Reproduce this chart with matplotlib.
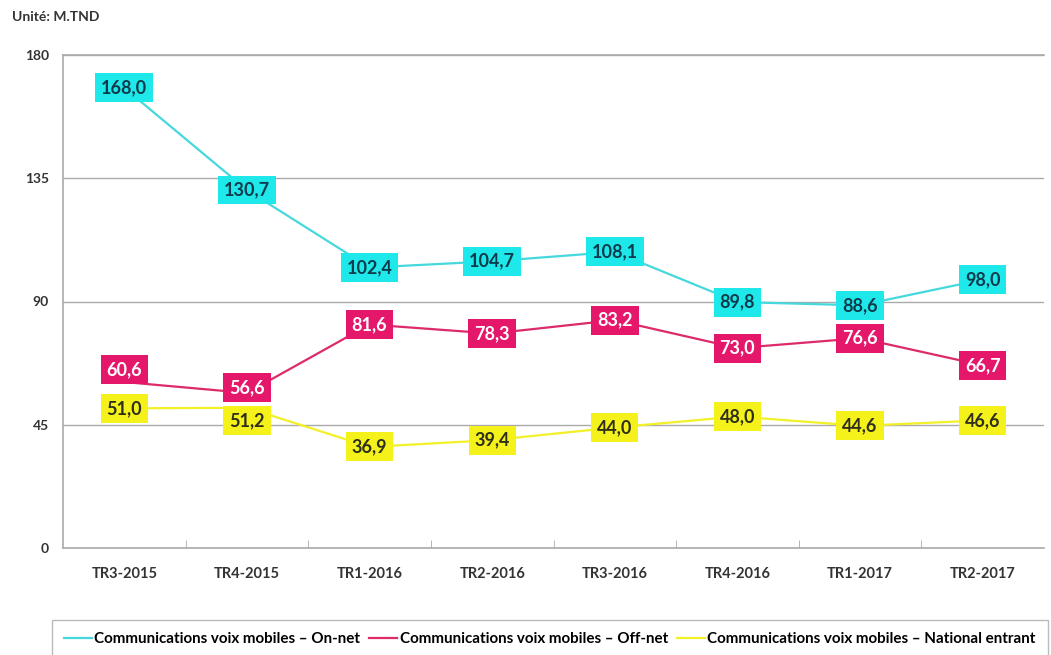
import numpy as np
import matplotlib.pyplot as plt

plt.rcParams['font.family'] = ['Lato', 'DejaVu Sans']

# Quarters and series values (M.TND)
quarters = ['TR3-2015', 'TR4-2015', 'TR1-2016', 'TR2-2016',
            'TR3-2016', 'TR4-2016', 'TR1-2017', 'TR2-2017']
on_net = [168.0, 130.7, 102.4, 104.7, 108.1, 89.8, 88.6, 98.0]
off_net = [60.6, 56.6, 81.6, 78.3, 83.2, 73.0, 76.6, 66.7]
national_entrant = [51.0, 51.2, 36.9, 39.4, 44.0, 48.0, 44.6, 46.6]

series_names = ['Communications voix mobiles \u2013 On-net',
                'Communications voix mobiles \u2013 Off-net',
                'Communications voix mobiles \u2013 National entrant']
line_colors = ['#45D8DC', '#DC2A6A', '#F2F028']
box_colors = ['#1EE8EA', '#E5176B', '#F4F21A']
text_colors = ['#0D3B4C', '#FFFFFF', '#2E2E1A']

# small vertical nudges (points) for crowded labels, as in the original
nudges = {(1, 0): 9, (1, 1): 4, (2, 1): -9}

fig = plt.figure(figsize=(10.51, 6.55), dpi=100)
ax = fig.add_axes([63 / 1051, 1 - 548 / 655, (1044 - 63) / 1051, (548 - 55) / 655])

x = np.arange(len(quarters))
lines = []
for k, (vals, name, lc, bc, tc) in enumerate(zip([on_net, off_net, national_entrant], series_names,
                                                  line_colors, box_colors, text_colors)):
    ln, = ax.plot(x, vals, color=lc, lw=1.6, label=name, zorder=3)
    lines.append(ln)
    for xi, v in zip(x, vals):
        ax.annotate(f'{v:.1f}'.replace('.', ','), (xi, v),
                    xytext=(0, nudges.get((k, xi), 0)), textcoords='offset points',
                    ha='center', va='center',
                    fontsize=13, fontweight='bold', color=tc, zorder=5,
                    bbox=dict(boxstyle='square,pad=0.33', fc=bc, ec='none'))

ax.set_xlim(-0.5, len(quarters) - 0.5)
ax.set_ylim(0, 180)
ax.set_yticks([0, 45, 90, 135, 180])
ax.set_xticks(x)
ax.set_xticklabels(quarters)
ax.set_xticks(np.arange(0.5, len(quarters) - 0.5, 1), minor=True)
ax.tick_params(axis='x', which='major', length=0, pad=14, labelsize=10.5, labelcolor='#333333')
ax.tick_params(axis='x', which='minor', direction='in', length=6, color='#AAAAAA')
ax.tick_params(axis='y', length=0, pad=10, labelsize=10, labelcolor='#333333')
for lab in ax.get_xticklabels() + ax.get_yticklabels():
    lab.set_fontweight('bold')

ax.grid(axis='y', color='#AAAAAA', lw=1)
ax.set_axisbelow(True)
for side in ['left', 'bottom', 'top']:
    ax.spines[side].set_color('#AAAAAA')
    ax.spines[side].set_linewidth(1.2)
ax.spines['right'].set_visible(False)

fig.text(12 / 1051, 1 - 17 / 655, 'Unit\u00e9: M.TND', ha='left', va='center',
         fontsize=10, fontweight='bold', color='#333333')

# legend runs past the right edge of the picture, as in the original
leg = fig.legend(handles=lines, loc='upper left', ncol=3,
                 bbox_to_anchor=(52 / 1051, 1 - 620 / 655), borderaxespad=0,
                 frameon=True, fancybox=False, edgecolor='#AAAAAA',
                 handlelength=1.85, handletextpad=0.15, columnspacing=0.6,
                 borderpad=0.8, prop={'weight': 'bold', 'size': 10.9})

fig.savefig('out.png', dpi=100)
